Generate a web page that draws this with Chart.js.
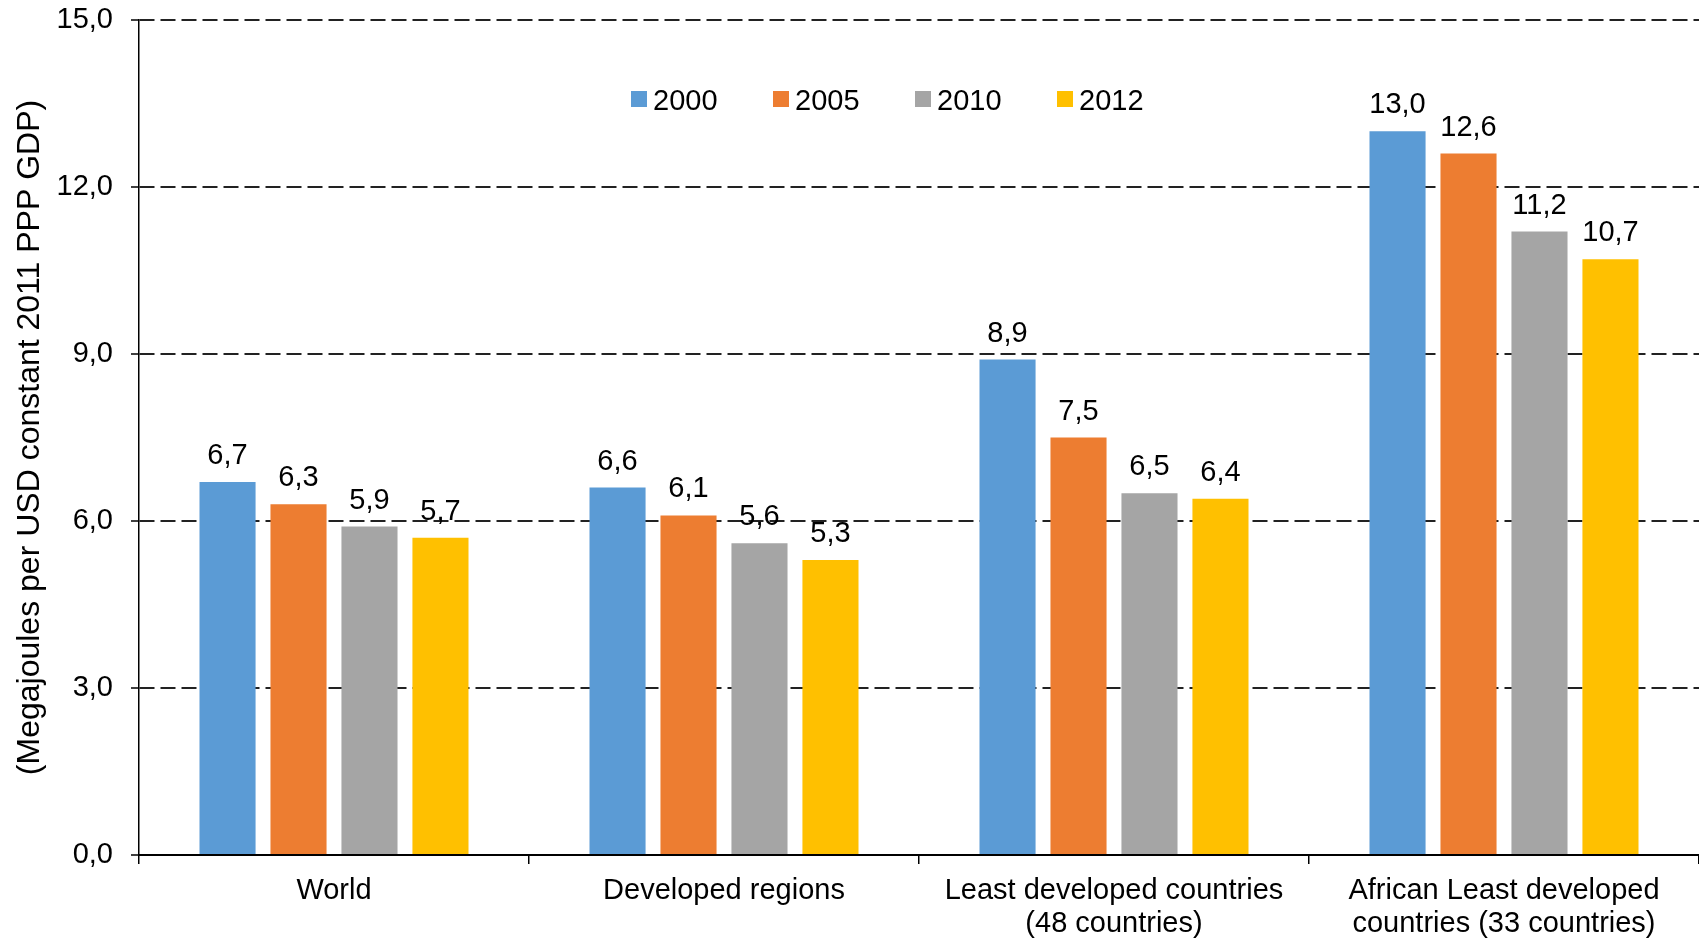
<!DOCTYPE html>
<html>
<head>
<meta charset="utf-8">
<script src="https://cdn.jsdelivr.net/npm/chart.js@4/dist/chart.umd.min.js"></script>
<style>
  html, body { margin: 0; padding: 0; background: #fff; }
  #wrap { width: 1699px; height: 942px; position: relative; }
</style>
</head>
<body>
<div id="wrap"><canvas id="chart01"></canvas></div>
<script>
// categories (multi-line labels as arrays)
const regions = [
  "World",
  "Developed regions",
  ["Least developed countries", "(48 countries)"],
  ["African Least developed", "countries (33 countries)"]
];
const years = ["2000", "2005", "2010", "2012"];
const colors = ["#5B9BD5", "#ED7D31", "#A5A5A5", "#FFC000"];

// energy intensity, one array per year
const v2000 = [6.7, 6.6, 8.9, 13.0];
const v2005 = [6.3, 6.1, 7.5, 12.6];
const v2010 = [5.9, 5.6, 6.5, 11.2];
const v2012 = [5.7, 5.3, 6.4, 10.7];

const yTicks = [0, 3, 6, 9, 12, 15];
const yTitle = "(Megajoules per USD constant 2011 PPP GDP)";

const FONT = '"Liberation Sans", Arial, sans-serif';

function fmt(v) {
  return v.toFixed(1).replace('.', ',');
}

Chart.defaults.font.family = FONT;
Chart.defaults.color = '#000';

// value labels above each bar
const barLabels = {
  id: 'barLabels',
  afterDatasetsDraw(chart) {
    const ctx = chart.ctx;
    ctx.save();
    ctx.font = '29px ' + FONT;
    ctx.fillStyle = '#000';
    ctx.textAlign = 'center';
    ctx.textBaseline = 'alphabetic';
    chart.data.datasets.forEach(function (ds, i) {
      chart.getDatasetMeta(i).data.forEach(function (bar, j) {
        ctx.fillText(fmt(ds.data[j]), bar.x, bar.y - 18);
      });
    });
    ctx.restore();
  }
};

// legend drawn inside the plot, like the original
const insideLegend = {
  id: 'insideLegend',
  afterDraw(chart) {
    const ctx = chart.ctx;
    const x0 = 631, step = 142, boxTop = 91, box = 16, base = 110;
    ctx.save();
    ctx.font = '29px ' + FONT;
    ctx.textAlign = 'left';
    ctx.textBaseline = 'alphabetic';
    chart.data.datasets.forEach(function (ds, i) {
      const x = x0 + i * step;
      ctx.fillStyle = ds.backgroundColor;
      ctx.fillRect(x, boxTop, box, box);
      ctx.fillStyle = '#000';
      ctx.fillText(ds.label, x + box + 6, base);
    });
    ctx.restore();
  }
};

const series = [v2000, v2005, v2010, v2012];
const datasets = [];
for (var i = 0; i < years.length; i++) {
  datasets.push({
    label: years[i],
    data: series[i],
    backgroundColor: colors[i],
    categoryPercentage: 0.728,
    barPercentage: 0.79
  });
}

var ctx = document.getElementById('chart01').getContext('2d');
var myChart = new Chart(ctx, {
  type: 'bar',
  data: { labels: regions, datasets: datasets },
  options: {
    responsive: true,
    maintainAspectRatio: false,
    animation: false,
    layout: { padding: { top: 20, right: 0, bottom: 0, left: 0 } },
    plugins: {
      legend: { display: false },
      tooltip: { enabled: false }
    },
    scales: {
      x: {
        grid: {
          offset: true,
          drawOnChartArea: false,
          drawTicks: true,
          tickLength: 9,
          color: '#000',
          lineWidth: 1.5
        },
        border: { color: '#000', width: 2 },
        ticks: {
          font: { size: 29, lineHeight: 1.14 },
          color: '#000',
          padding: 10,
          maxRotation: 0,
          autoSkip: false
        },
        afterFit: function (scale) {
          scale.height = 87;
          scale.paddingLeft = 0;
          scale.paddingRight = 0;
        }
      },
      y: {
        min: 0,
        max: 15,
        afterBuildTicks: function (scale) {
          scale.ticks = yTicks.map(function (v) { return { value: v }; });
        },
        grid: {
          color: '#222',
          lineWidth: 2,
          tickLength: 8,
          tickColor: '#000',
          tickWidth: 1.5,
          tickBorderDash: []
        },
        border: { color: '#000', width: 1.5, dash: [15, 6] },
        ticks: {
          font: { size: 29 },
          color: '#000',
          padding: 18,
          callback: function (v) { return fmt(v); }
        },
        title: {
          display: true,
          text: yTitle,
          color: '#000',
          font: { size: 32 },
          padding: { top: 11, bottom: 0 }
        },
        afterFit: function (scale) {
          scale.width = 139;
          scale.paddingTop = 0;
          scale.paddingBottom = 0;
        }
      }
    }
  },
  plugins: [barLabels, insideLegend]
});
</script>
</body>
</html>
